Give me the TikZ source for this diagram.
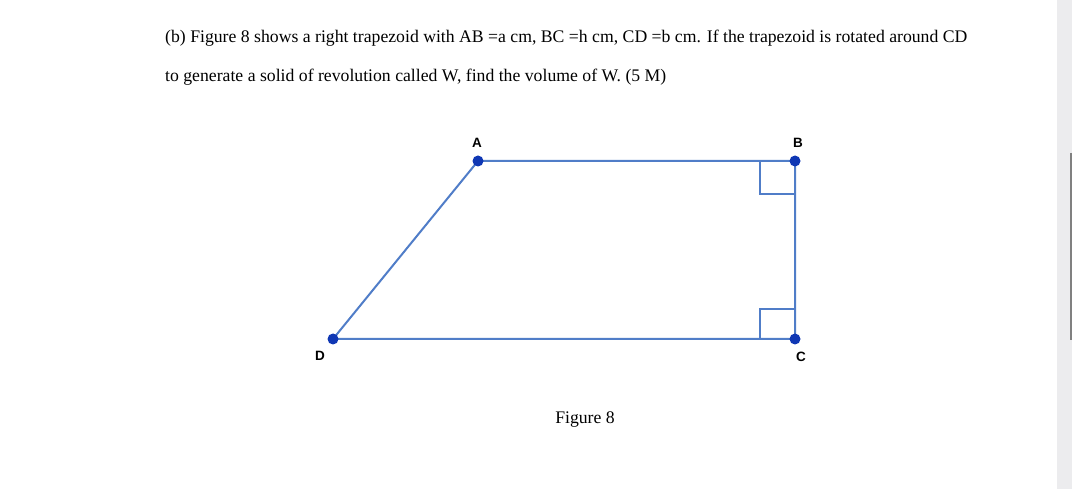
\documentclass[tikz,border=0pt]{standalone}
\usepackage{fontspec}
\setmainfont{Liberation Serif}
\newfontfamily\lblfont{Liberation Sans}
\definecolor{edge}{RGB}{80,125,200}
\definecolor{dotc}{RGB}{15,55,180}
\definecolor{strip}{RGB}{236,236,238}
\begin{document}
\begin{tikzpicture}[x=1pt,y=-1pt,
  side/.style={draw=edge,line width=2pt},
  vdot/.style={circle,fill=dotc,inner sep=0pt,minimum size=11pt},
  vlbl/.style={font=\lblfont\bfseries\fontsize{13.5}{15}\selectfont},
  txt/.style={anchor=west,inner sep=0pt,font=\fontsize{17.7}{20}\selectfont}]
\useasboundingbox (0,0) rectangle (1072,489);
\fill[strip] (1057,0) rectangle (1072,489);
\draw[gray,line width=1.5pt] (1071,153) -- (1071,340);
\node[txt] (l1) at (165,38) {(b) Figure 8 shows a right trapezoid with AB =a cm, BC =h cm, CD =b cm. If the trapezoid is rotated around CD};
\node[txt] (l2) at (165,77) {to generate a solid of revolution called W, find the volume of W. (5 M)};
\coordinate (A) at (478,161);
\coordinate (B) at (795,161);
\coordinate (C) at (795,339);
\coordinate (D) at (333,339);
\draw[side] (A) -- (B) -- (C) -- (D) -- cycle;
\draw[side,line width=1.6pt] (760,161) |- (795,194);
\draw[side,line width=1.6pt] (760,339) |- (795,309);
\foreach \p in {A,B,C,D} \node[vdot] (d\p) at (\p) {};
\node[vlbl] (lA) at (477,143) {A};
\node[vlbl] (lB) at (798,143) {B};
\node[vlbl] (lC) at (801,357) {C};
\node[vlbl] (lD) at (320,356) {D};
\node[font=\fontsize{17.7}{20}\selectfont] (fig) at (585,420) {Figure 8};
\end{tikzpicture}
\end{document}
